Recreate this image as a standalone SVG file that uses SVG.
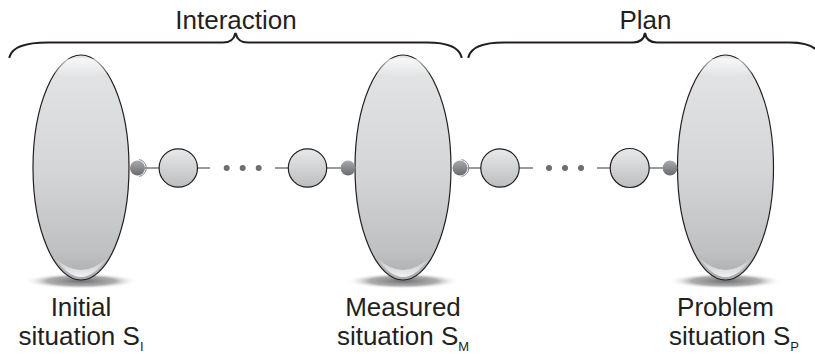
<svg xmlns="http://www.w3.org/2000/svg" width="815" height="354" viewBox="0 0 815 354">
  <defs>
    <linearGradient id="bigGrad" x1="0" y1="0" x2="0" y2="1">
      <stop offset="0" stop-color="#e4e5e6"/>
      <stop offset="0.5" stop-color="#d5d6d8"/>
      <stop offset="0.88" stop-color="#bfc0c2"/>
      <stop offset="1" stop-color="#a9abae"/>
    </linearGradient>
    <linearGradient id="circGrad" x1="0" y1="0" x2="0" y2="1">
      <stop offset="0" stop-color="#e8e9ea"/>
      <stop offset="1" stop-color="#bcbdbf"/>
    </linearGradient>
    <linearGradient id="ballGrad" x1="0" y1="0" x2="0" y2="1">
      <stop offset="0" stop-color="#a8aaad"/>
      <stop offset="1" stop-color="#6a6b6e"/>
    </linearGradient>
    <linearGradient id="hiGrad" x1="0" y1="0" x2="0" y2="1">
      <stop offset="0" stop-color="#ffffff" stop-opacity="0.15"/>
      <stop offset="1" stop-color="#ffffff" stop-opacity="0.85"/>
    </linearGradient>
    <linearGradient id="topHi" x1="0" y1="0" x2="0" y2="1">
      <stop offset="0" stop-color="#ffffff" stop-opacity="0.7"/>
      <stop offset="1" stop-color="#ffffff" stop-opacity="0"/>
    </linearGradient>
    <radialGradient id="shadowGrad" cx="0.5" cy="0.5" r="0.5">
      <stop offset="0" stop-color="#6f6f70"/>
      <stop offset="0.6" stop-color="#9a9a9b" stop-opacity="0.8"/>
      <stop offset="1" stop-color="#ffffff" stop-opacity="0"/>
    </radialGradient>
    <g id="bigNode">
      <ellipse cx="0" cy="281" rx="57" ry="8" fill="url(#shadowGrad)"/>
      <ellipse cx="0" cy="167.5" rx="48" ry="112.5" fill="url(#bigGrad)" stroke="#231f20" stroke-width="1.2"/>
      <ellipse cx="0" cy="68" rx="30" ry="10" fill="url(#topHi)"/>
      <path d="M-26,258 Q0,296 26,258 Q0,282 -26,258 Z" fill="url(#hiGrad)"/>
    </g>
  </defs>
  <style>
    .lbl { font-family: "Liberation Sans", Arial, sans-serif; font-size: 26px; fill: #231f20; }
    .sub { font-size: 13px; }
    .brace { fill: none; stroke: #231f20; stroke-width: 2.2; stroke-linecap: round; }
    .conn { fill: none; stroke: #58595b; stroke-width: 1.2; }
    .circ { fill: url(#circGrad); stroke: #231f20; stroke-width: 1.2; }
    .ball { fill: url(#ballGrad); }
    .ring { fill: none; stroke: #8a8b8d; stroke-width: 1; }
    .dot { fill: #6d6e71; }
  </style>

  <g id="connectors">
    <line class="conn" x1="145" y1="168" x2="159" y2="168"/>
    <line class="conn" x1="197.5" y1="168" x2="210" y2="168"/>
    <line class="conn" x1="275" y1="168" x2="288.5" y2="168"/>
    <line class="conn" x1="326.5" y1="168" x2="341" y2="168"/>
    <line class="conn" x1="467.5" y1="168" x2="481" y2="168"/>
    <line class="conn" x1="519" y1="168" x2="533" y2="168"/>
    <line class="conn" x1="597" y1="168" x2="610.5" y2="168"/>
    <line class="conn" x1="649" y1="168" x2="663" y2="168"/>
  </g>

  <g id="brace-interaction">
    <path class="brace" d="M9.5,57 C12,47 24,42.5 48,42.5 L223,42.5 C231,42.5 234,39 235.5,33 C237,39 240,42.5 248,42.5 L427,42.5 C448,42.5 459,47 461.5,57"/>
    <text class="lbl" x="236" y="29" text-anchor="middle">Interaction</text>
  </g>
  <g id="brace-plan">
    <path class="brace" d="M468.5,57 C471,47 482,42.5 504,42.5 L633,42.5 C641,42.5 644,39 645,33 C646,39 649,42.5 657,42.5 L790,42.5 C806,42.5 817,46 822,57"/>
    <text class="lbl" x="645.5" y="29" text-anchor="middle">Plan</text>
  </g>

  <g id="node-initial">
    <use href="#bigNode" x="81"/>
    <text class="lbl" x="81" y="316" text-anchor="middle">Initial</text>
    <text class="lbl" x="81" y="345" text-anchor="middle">situation S<tspan class="sub" dy="6">I</tspan></text>
  </g>
  <g id="node-measured">
    <use href="#bigNode" x="403"/>
    <text class="lbl" x="403" y="316" text-anchor="middle">Measured</text>
    <text class="lbl" x="403" y="345" text-anchor="middle">situation S<tspan class="sub" dy="6">M</tspan></text>
  </g>
  <g id="node-problem">
    <use href="#bigNode" x="725.5"/>
    <text class="lbl" x="725.5" y="316" text-anchor="middle">Problem</text>
    <text class="lbl" x="734" y="345" text-anchor="middle">situation S<tspan class="sub" dy="6">P</tspan></text>
  </g>

  <g id="port-1">
    <circle class="ball" cx="137.5" cy="168" r="7.5"/>
    <path class="ring" d="M139,159.5 A8.6,8.6 0 0 1 139,176.5"/>
  </g>
  <g id="step-1"><circle class="circ" cx="178.3" cy="168" r="19.2"/></g>
  <g id="dots-1">
    <circle class="dot" cx="226.7" cy="168" r="3"/>
    <circle class="dot" cx="242.7" cy="168" r="3"/>
    <circle class="dot" cx="258.7" cy="168" r="3"/>
  </g>
  <g id="step-2"><circle class="circ" cx="307.5" cy="168" r="19.2"/></g>
  <g id="port-2"><circle class="ball" cx="348" cy="168" r="7.4"/></g>
  <g id="port-3">
    <circle class="ball" cx="460" cy="168" r="7.5"/>
    <path class="ring" d="M461.5,159.5 A8.6,8.6 0 0 1 461.5,176.5"/>
  </g>
  <g id="step-3"><circle class="circ" cx="500" cy="168" r="19.2"/></g>
  <g id="dots-2">
    <circle class="dot" cx="549" cy="168" r="3"/>
    <circle class="dot" cx="565" cy="168" r="3"/>
    <circle class="dot" cx="581" cy="168" r="3"/>
  </g>
  <g id="step-4"><circle class="circ" cx="629.7" cy="168" r="19.5"/></g>
  <g id="port-4"><circle class="ball" cx="670" cy="168" r="7.4"/></g>
</svg>
